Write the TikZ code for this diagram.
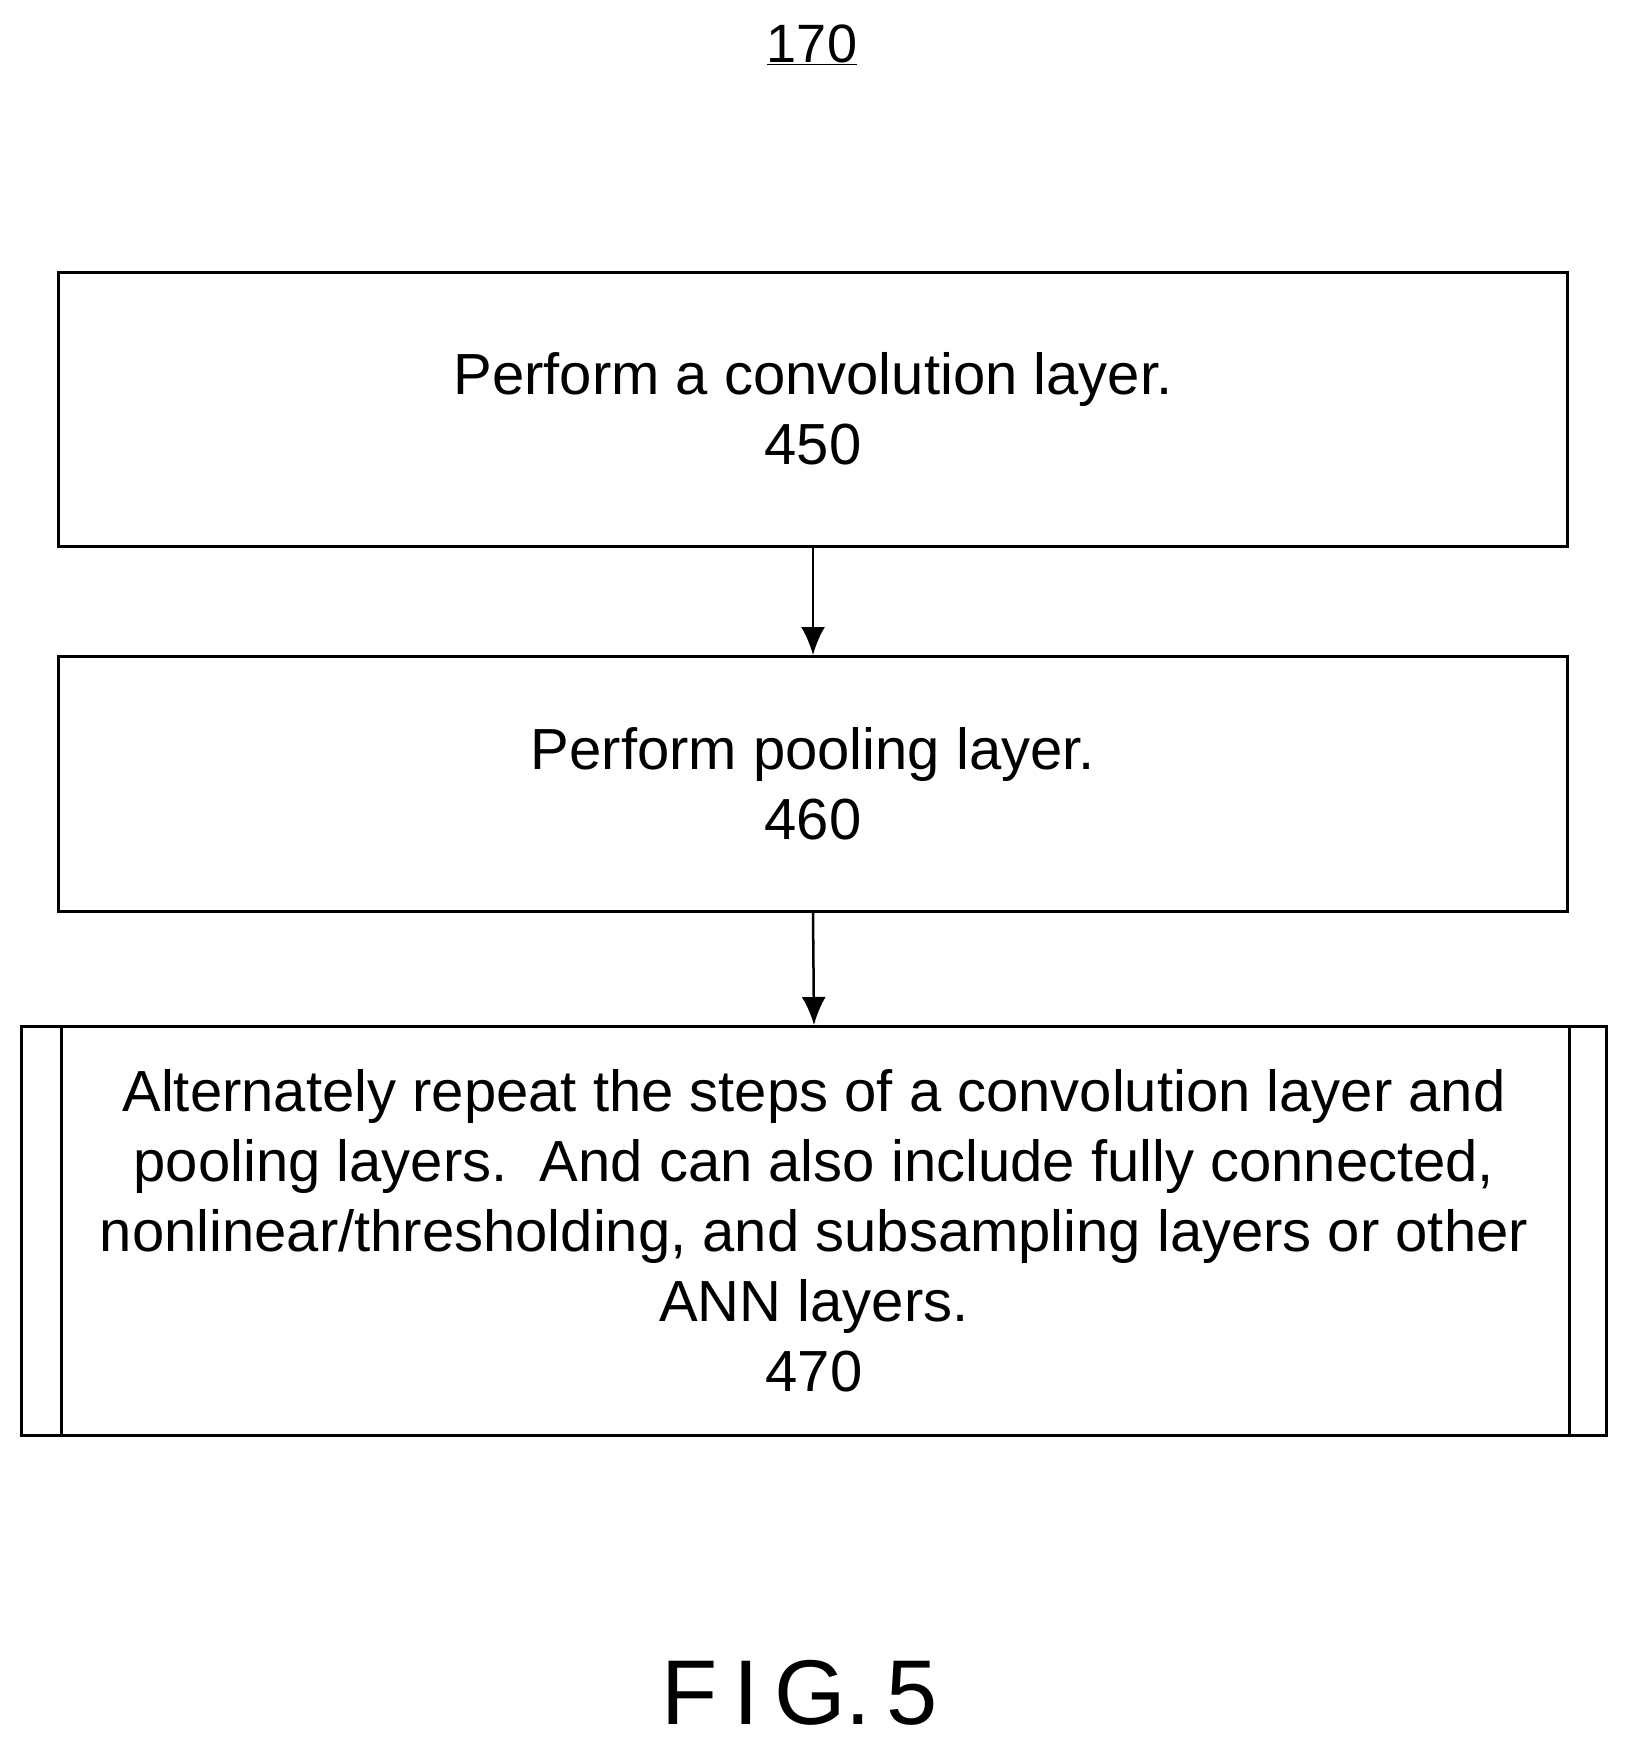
\documentclass[tikz,border=0pt]{standalone}
\usepackage{fontspec}
\setmainfont{Liberation Sans}
\usetikzlibrary{arrows.meta}
\begin{document}
\begin{tikzpicture}[x=1pt,y=-1pt,
  box/.style={draw,line width=3pt,inner sep=0pt},
  txt/.style={font=\fontsize{58}{70}\selectfont,align=center},
  arr/.style={line width=2.5pt,-{Latex[length=28pt,width=24pt]}}]
\useasboundingbox (0,0) rectangle (1632,1750);
\node[font=\fontsize{54}{60}\selectfont] (t) at (812,45) {\underline{170}};
\node[box,minimum width=1509pt,minimum height=274pt] (b1) at (813,409) {};
\node[txt] at (b1) {Perform a convolution layer.\\450};
\node[box,minimum width=1509pt,minimum height=255pt] (b2) at (813,784) {};
\node[txt] at (b2) {Perform pooling layer.\\460};
\node[box,minimum width=1585pt,minimum height=409pt] (b3) at (814,1231) {};
\draw[line width=3pt] (61,1027) -- (61,1436) (1569,1027) -- (1569,1436);
\node[txt] at (b3) {Alternately repeat the steps of a convolution layer and\\pooling layers.\ \ And can also include fully connected,\\nonlinear/thresholding, and subsampling layers or other\\ANN layers.\\470};
\draw[arr] (b1.south) -- (b2.north);
\draw[arr] (b2.south) -- (b3.north);
\node[font=\fontsize{92}{100}\selectfont] (f) at (800,1693) {F\,I\,G.\,5};
\end{tikzpicture}
\end{document}
